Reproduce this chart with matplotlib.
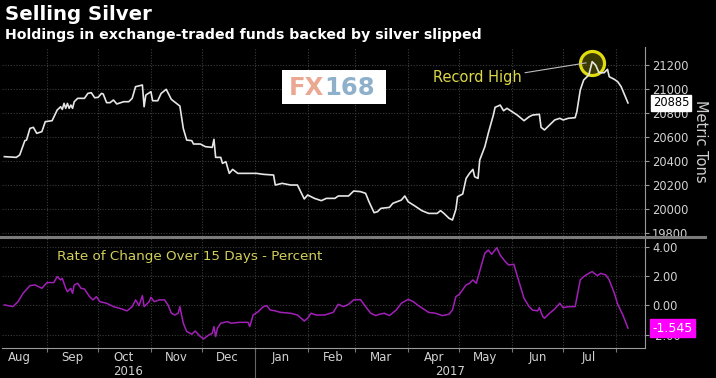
import matplotlib
matplotlib.use("Agg")
import matplotlib.pyplot as plt
import matplotlib.dates as mdates
import matplotlib.transforms as mtransforms
from matplotlib.lines import Line2D
from matplotlib.patches import Rectangle
import pandas as pd

# ETF silver holdings, metric tons
holdings_dates = [
    "2016-08-07", "2016-08-14", "2016-08-16", "2016-08-19", "2016-08-20", "2016-08-22",
    "2016-08-24", "2016-08-26", "2016-08-29", "2016-08-31", "2016-09-04", "2016-09-07",
    "2016-09-09", "2016-09-10", "2016-09-11", "2016-09-12", "2016-09-13", "2016-09-14",
    "2016-09-15", "2016-09-16", "2016-09-17", "2016-09-19", "2016-09-23", "2016-09-25",
    "2016-09-27", "2016-09-29", "2016-10-01", "2016-10-03", "2016-10-04", "2016-10-06",
    "2016-10-08", "2016-10-10", "2016-10-12", "2016-10-16", "2016-10-19", "2016-10-21",
    "2016-10-23", "2016-10-27", "2016-10-28", "2016-10-29", "2016-11-01", "2016-11-02",
    "2016-11-05", "2016-11-07", "2016-11-10", "2016-11-13", "2016-11-16", "2016-11-18",
    "2016-11-20", "2016-11-22", "2016-11-25", "2016-11-26", "2016-11-30", "2016-12-03",
    "2016-12-07", "2016-12-08", "2016-12-09", "2016-12-12", "2016-12-13", "2016-12-15",
    "2016-12-17", "2016-12-19", "2016-12-22", "2017-01-02", "2017-01-06", "2017-01-12",
    "2017-01-13", "2017-01-17", "2017-01-22", "2017-01-26", "2017-01-30", "2017-02-01",
    "2017-02-05", "2017-02-09", "2017-02-12", "2017-02-17", "2017-02-19", "2017-02-25",
    "2017-02-28", "2017-03-04", "2017-03-07", "2017-03-09", "2017-03-12", "2017-03-14",
    "2017-03-16", "2017-03-21", "2017-03-23", "2017-03-28", "2017-03-30", "2017-04-01",
    "2017-04-05", "2017-04-09", "2017-04-13", "2017-04-18", "2017-04-20", "2017-04-22",
    "2017-04-25", "2017-04-27", "2017-04-29", "2017-04-30", "2017-05-03", "2017-05-05",
    "2017-05-07", "2017-05-09", "2017-05-10", "2017-05-12", "2017-05-13", "2017-05-16",
    "2017-05-18", "2017-05-21", "2017-05-22", "2017-05-25", "2017-05-27", "2017-05-29",
    "2017-06-01", "2017-06-04", "2017-06-08", "2017-06-11", "2017-06-13", "2017-06-17",
    "2017-06-18", "2017-06-20", "2017-06-23", "2017-06-26", "2017-06-29", "2017-07-01",
    "2017-07-04", "2017-07-08", "2017-07-09", "2017-07-11", "2017-07-13", "2017-07-16",
    "2017-07-18", "2017-07-20", "2017-07-22", "2017-07-25", "2017-07-27", "2017-07-28",
    "2017-07-31", "2017-08-02", "2017-08-04", "2017-08-08",
]
holdings_tons = [
    20438, 20432, 20452, 20571, 20576, 20673,
    20682, 20632, 20646, 20729, 20737, 20826,
    20853, 20831, 20881, 20840, 20881, 20840,
    20867, 20840, 20895, 20923, 20923, 20964,
    20970, 20928, 20931, 20964, 20959, 20887,
    20887, 20909, 20876, 20895, 20895, 20923,
    21020, 21034, 20853, 20950, 20978, 20903,
    20903, 20964, 20998, 20914, 20881, 20859,
    20673, 20576, 20571, 20543, 20543, 20521,
    20515, 20582, 20432, 20432, 20382, 20396,
    20299, 20332, 20299, 20299, 20291, 20285,
    20202, 20216, 20202, 20202, 20086, 20119,
    20091, 20072, 20091, 20091, 20111, 20111,
    20152, 20147, 20133, 20063, 19972, 19980,
    20008, 20016, 20050, 20077, 20111, 20063,
    20027, 19989, 19966, 19966, 19989, 19966,
    19925, 19911, 20000, 20105, 20127, 20257,
    20299, 20332, 20271, 20257, 20410, 20521,
    20632, 20784, 20848, 20867, 20820, 20840,
    20812, 20784, 20737, 20770, 20784, 20790,
    20682, 20660, 20701, 20743, 20757, 20743,
    20757, 20762, 20812, 20992, 21075, 21117,
    21228, 21200, 21136, 21136, 21164, 21103,
    21081, 21061, 21020, 20885,
]

# 15-day rate of change, percent
roc_dates = [
    "2016-08-07", "2016-08-12", "2016-08-15", "2016-08-18", "2016-08-22", "2016-08-25",
    "2016-08-29", "2016-09-01", "2016-09-05", "2016-09-07", "2016-09-09", "2016-09-10",
    "2016-09-12", "2016-09-13", "2016-09-15", "2016-09-16", "2016-09-17", "2016-09-19",
    "2016-09-21", "2016-09-23", "2016-09-26", "2016-09-28", "2016-09-30", "2016-10-02",
    "2016-10-06", "2016-10-10", "2016-10-15", "2016-10-18", "2016-10-21", "2016-10-23",
    "2016-10-25", "2016-10-27", "2016-10-28", "2016-10-31", "2016-11-01", "2016-11-03",
    "2016-11-06", "2016-11-09", "2016-11-11", "2016-11-13", "2016-11-15", "2016-11-17",
    "2016-11-18", "2016-11-20", "2016-11-22", "2016-11-25", "2016-11-27", "2016-11-30",
    "2016-12-02", "2016-12-05", "2016-12-07", "2016-12-08", "2016-12-09", "2016-12-10",
    "2016-12-12", "2016-12-16", "2016-12-18", "2016-12-23", "2016-12-28", "2016-12-29",
    "2016-12-31", "2017-01-03", "2017-01-06", "2017-01-08", "2017-01-10", "2017-01-13",
    "2017-01-16", "2017-01-22", "2017-01-26", "2017-01-30", "2017-02-01", "2017-02-03",
    "2017-02-06", "2017-02-11", "2017-02-16", "2017-02-19", "2017-02-22", "2017-02-25",
    "2017-02-28", "2017-03-04", "2017-03-07", "2017-03-10", "2017-03-13", "2017-03-15",
    "2017-03-18", "2017-03-21", "2017-03-25", "2017-03-28", "2017-04-01", "2017-04-04",
    "2017-04-07", "2017-04-10", "2017-04-13", "2017-04-17", "2017-04-21", "2017-04-25",
    "2017-04-27", "2017-04-29", "2017-05-01", "2017-05-05", "2017-05-07", "2017-05-09",
    "2017-05-11", "2017-05-14", "2017-05-16", "2017-05-18", "2017-05-20", "2017-05-23",
    "2017-05-25", "2017-05-28", "2017-05-30", "2017-06-02", "2017-06-05", "2017-06-08",
    "2017-06-11", "2017-06-13", "2017-06-16", "2017-06-17", "2017-06-19", "2017-06-20",
    "2017-06-23", "2017-06-26", "2017-06-29", "2017-07-01", "2017-07-04", "2017-07-08",
    "2017-07-11", "2017-07-13", "2017-07-16", "2017-07-18", "2017-07-21", "2017-07-23",
    "2017-07-26", "2017-07-28", "2017-07-31", "2017-08-02", "2017-08-05", "2017-08-08",
]
roc_pct = [
    0.04, -0.08, 0.26, 0.83, 1.35, 1.40,
    1.17, 1.56, 1.56, 1.97, 1.74, 1.85,
    1.17, 0.94, 1.17, 0.83, 1.40, 1.51,
    1.17, 1.12, 0.60, 0.38, 0.60, 0.26,
    0.15, -0.08, -0.24, -0.37, -0.08, 0.38,
    -0.01, 0.67, -0.08, 0.26, 0.56, 0.26,
    0.38, 0.38, 0.04, -0.53, -0.65, -0.53,
    -0.08, -1.21, -1.78, -1.96, -1.74, -2.12,
    -2.28, -2.01, -1.90, -1.44, -2.12, -1.56,
    -1.21, -1.10, -1.21, -1.15, -1.15, -1.44,
    -0.65, -0.42, -0.08, -0.01, -0.31, -0.37,
    -0.47, -0.53, -0.65, -1.06, -0.87, -0.53,
    -0.65, -0.65, -0.47, 0.08, -0.08, 0.08,
    0.38, 0.40, -0.08, -0.53, -0.69, -0.60,
    -0.53, -0.69, -0.31, 0.15, 0.42, 0.26,
    -0.01, -0.24, -0.47, -0.53, -0.69, -0.60,
    -0.31, 0.60, 0.76, 1.40, 1.51, 1.74,
    1.51, 2.76, 3.56, 3.78, 3.49, 3.94,
    3.44, 2.99, 2.76, 2.81, 1.63, 0.49,
    -0.08, -0.31, -0.37, -0.15, -0.76, -0.87,
    -0.53, -0.24, 0.15, -0.15, -0.08, -0.08,
    1.74, 1.97, 2.19, 2.31, 2.03, 2.19,
    2.08, 1.74, 0.83, 0.08, -0.65, -1.545,
]

month_labels = ["Aug", "Sep", "Oct", "Nov", "Dec", "Jan",
                "Feb", "Mar", "Apr", "May", "Jun", "Jul"]
year_labels = ["2016", "2017"]
holdings_ticks = [19800, 20000, 20200, 20400, 20600, 20800, 21000, 21200]
roc_ticks = [-2, 0, 2, 4]

h_dates = pd.to_datetime(holdings_dates)
r_dates = pd.to_datetime(roc_dates)

BG = "#000000"
GRID = "#3c3c3c"
TICK = "#d2d2d2"
YELLOW = "#dcd84a"

fig = plt.figure(figsize=(7.16, 3.78), dpi=100, facecolor=BG)
W, H = 716, 378


def box(x0, y0, x1, y1):
    return [x0 / W, 1 - y1 / H, (x1 - x0) / W, (y1 - y0) / H]


ax = fig.add_axes(box(2, 47, 645, 236), facecolor=BG)
ax2 = fig.add_axes(box(2, 238, 645, 348), facecolor=BG)

start = pd.Timestamp("2016-08-01")
xlim = (start + pd.Timedelta(days=4.6), start + pd.Timedelta(days=382))
month_starts = pd.date_range("2016-09-01", "2017-08-01", freq="MS")
month_mids = [pd.Timestamp("2016-08-16") + pd.DateOffset(months=i) for i in range(12)]

# holdings panel
ax.plot(h_dates, holdings_tons, color="#e6e6e6", lw=1.2, zorder=3)
ax.set_ylim(19778, 21350)
ax.set_xlim(*xlim)
ax.set_yticks(holdings_ticks)
ax.yaxis.tick_right()
ax.tick_params(axis="y", colors="#999999", labelcolor=TICK, labelsize=8.3,
               length=3, width=0.8, pad=2)
ax.set_xticks(month_starts)
ax.tick_params(axis="x", which="both", bottom=False, labelbottom=False)
for s in ["left", "top", "bottom"]:
    ax.spines[s].set_visible(False)
ax.spines["right"].set_color("#9a9a9a")
ax.grid(True, color=GRID, ls=(0, (1, 1.5)), lw=0.8)

# record high marker
i_max = holdings_tons.index(max(holdings_tons))
ax.scatter([h_dates[i_max]], [holdings_tons[i_max] - 15], s=300,
           facecolor=(0.5, 0.5, 0.0, 0.45), edgecolor="#e0dc10", lw=2.3, zorder=2)
ax.annotate("Record High", xy=(h_dates[i_max] - pd.Timedelta(days=3.5), holdings_tons[i_max] - 10),
            xytext=(0.671, 0.836), textcoords="axes fraction",
            color=YELLOW, fontsize=10.5, va="center", ha="left",
            arrowprops=dict(arrowstyle="-", color="#bbbbbb", lw=0.8,
                            shrinkA=0, shrinkB=0, relpos=(1.03, 0.85)))

trans_r = mtransforms.blended_transform_factory(ax.transAxes, ax.transData)
ax.text(1.012, holdings_tons[-1], f"{holdings_tons[-1]}", transform=trans_r,
        fontsize=8.3, color="black", va="center", ha="left", zorder=5,
        bbox=dict(boxstyle="square,pad=0.15", fc="white", ec="white"))
fig.text(0.979, 0.625, "Metric Tons", rotation=270, color="#cfcfcf",
         fontsize=10.5, va="center", ha="center")

# rate of change panel
ax2.plot(r_dates, roc_pct, color="#a21fb8", lw=1.1, zorder=3)
ax2.set_ylim(-2.9, 4.6)
ax2.set_yticks(roc_ticks)
ax2.set_yticklabels([f"{v:.2f}" for v in roc_ticks])
ax2.yaxis.tick_right()
ax2.tick_params(axis="y", colors="#999999", labelcolor=TICK, labelsize=8.3,
                length=3, width=0.8, pad=2)
ax2.set_xticks(month_starts)
ax2.set_xticklabels([])
ax2.set_xticks(month_mids, minor=True)
ax2.set_xticklabels(month_labels, minor=True)
ax2.tick_params(axis="x", which="major", colors="#777777", length=3, width=0.8)
ax2.tick_params(axis="x", which="minor", length=0, labelcolor=TICK,
                labelsize=8.5, pad=2)
for s in ["left", "top"]:
    ax2.spines[s].set_visible(False)
ax2.spines["right"].set_color("#9a9a9a")
ax2.spines["bottom"].set_color("#9a9a9a")
ax2.grid(True, which="major", color=GRID, ls=(0, (1, 1.5)), lw=0.8)
ax2.set_xlim(*xlim)

ax2.text(0.085, 0.83, "Rate of Change Over 15 Days - Percent", transform=ax2.transAxes,
         color="#d2cf5c", fontsize=9.7, va="center", ha="left")

trans_r2 = mtransforms.blended_transform_factory(ax2.transAxes, ax2.transData)
ax2.text(1.012, roc_pct[-1], f"{roc_pct[-1]:.3f}", transform=trans_r2,
         fontsize=9, color="white", va="center", ha="left", zorder=5,
         bbox=dict(boxstyle="square,pad=0.2", fc="#ff00ff", ec="#ff00ff"))

# year labels under the months
year_split = pd.Timestamp("2017-01-01")
trans_x = mtransforms.blended_transform_factory(ax2.transData, ax2.transAxes)
x0n, x1n = mdates.date2num(xlim[0]), mdates.date2num(xlim[1])
ysn = mdates.date2num(year_split)
for lbl, xc in zip(year_labels, [(x0n + ysn) / 2, (ysn + x1n) / 2]):
    ax2.text(xc, -0.21, lbl, transform=trans_x, color=TICK, fontsize=8.5,
             ha="center", va="center")
ax2.plot([year_split, year_split], [0, -0.28], transform=trans_x, color="#666666",
         lw=0.8, clip_on=False)

# panel separator
fig.add_artist(Line2D([0, 705 / W], [1 - 237 / H, 1 - 237 / H], color="#7a7a7a", lw=2.2))

# titles
fig.text(5 / W, 1 - 14.5 / H, "Selling Silver", color="white", fontsize=14.2,
         fontweight="bold", va="center", ha="left")
fig.text(5 / W, 1 - 34.5 / H, "Holdings in exchange-traded funds backed by silver slipped",
         color="white", fontsize=10.2, fontweight="bold", va="center", ha="left")

# watermark
fig.add_artist(Rectangle((282 / W, 1 - 104 / H), 104 / W, 34 / H,
                         transform=fig.transFigure, fc="white", ec="none", zorder=4))
fx = fig.text(289 / W, 1 - 88 / H, "FX", color="#eaa892", fontsize=17.5, fontweight="bold",
              va="center", ha="left", zorder=5)
fig.add_artist(plt.Annotation("168", xy=(1.0, 0.5), xycoords=fx, va="center", ha="left",
                              color="#8eb0cb", fontsize=17.5, fontweight="bold", zorder=5))

fig.savefig("out.png", dpi=100, facecolor=BG)
